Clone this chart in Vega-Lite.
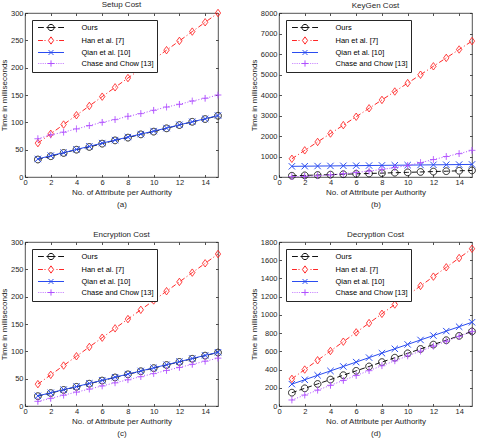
{
  "$schema": "https://vega.github.io/schema/vega-lite/v6.json",
  "padding": 0,
  "background": "white",
  "datasets": {
    "setup": [
      {"series":"Ours","x":1,"y":32},{"series":"Ours","x":2,"y":38},{"series":"Ours","x":3,"y":44},{"series":"Ours","x":4,"y":50},{"series":"Ours","x":5,"y":55},{"series":"Ours","x":6,"y":61},{"series":"Ours","x":7,"y":67},{"series":"Ours","x":8,"y":72},{"series":"Ours","x":9,"y":78},{"series":"Ours","x":10,"y":83},{"series":"Ours","x":11,"y":89},{"series":"Ours","x":12,"y":95},{"series":"Ours","x":13,"y":101},{"series":"Ours","x":14,"y":106},{"series":"Ours","x":15,"y":112},
      {"series":"Han et al. [7]","x":1,"y":62},{"series":"Han et al. [7]","x":2,"y":79},{"series":"Han et al. [7]","x":3,"y":96},{"series":"Han et al. [7]","x":4,"y":113},{"series":"Han et al. [7]","x":5,"y":130},{"series":"Han et al. [7]","x":6,"y":147},{"series":"Han et al. [7]","x":7,"y":164},{"series":"Han et al. [7]","x":8,"y":181},{"series":"Han et al. [7]","x":9,"y":198},{"series":"Han et al. [7]","x":10,"y":215},{"series":"Han et al. [7]","x":11,"y":232},{"series":"Han et al. [7]","x":12,"y":249},{"series":"Han et al. [7]","x":13,"y":266},{"series":"Han et al. [7]","x":14,"y":283},{"series":"Han et al. [7]","x":15,"y":300},
      {"series":"Qian et al. [10]","x":1,"y":33},{"series":"Qian et al. [10]","x":2,"y":39},{"series":"Qian et al. [10]","x":3,"y":44.5},{"series":"Qian et al. [10]","x":4,"y":50.5},{"series":"Qian et al. [10]","x":5,"y":56},{"series":"Qian et al. [10]","x":6,"y":62},{"series":"Qian et al. [10]","x":7,"y":67.5},{"series":"Qian et al. [10]","x":8,"y":73},{"series":"Qian et al. [10]","x":9,"y":78.5},{"series":"Qian et al. [10]","x":10,"y":84},{"series":"Qian et al. [10]","x":11,"y":89.5},{"series":"Qian et al. [10]","x":12,"y":95.5},{"series":"Qian et al. [10]","x":13,"y":101},{"series":"Qian et al. [10]","x":14,"y":106.5},{"series":"Qian et al. [10]","x":15,"y":112.5},
      {"series":"Chase and Chow [13]","x":1,"y":70},{"series":"Chase and Chow [13]","x":2,"y":77},{"series":"Chase and Chow [13]","x":3,"y":82},{"series":"Chase and Chow [13]","x":4,"y":88},{"series":"Chase and Chow [13]","x":5,"y":94},{"series":"Chase and Chow [13]","x":6,"y":100},{"series":"Chase and Chow [13]","x":7,"y":105},{"series":"Chase and Chow [13]","x":8,"y":111},{"series":"Chase and Chow [13]","x":9,"y":116},{"series":"Chase and Chow [13]","x":10,"y":122},{"series":"Chase and Chow [13]","x":11,"y":128},{"series":"Chase and Chow [13]","x":12,"y":133},{"series":"Chase and Chow [13]","x":13,"y":139},{"series":"Chase and Chow [13]","x":14,"y":144},{"series":"Chase and Chow [13]","x":15,"y":150}
    ],
    "keygen": [
      {"series":"Ours","x":1,"y":60},{"series":"Ours","x":2,"y":79},{"series":"Ours","x":3,"y":97},{"series":"Ours","x":4,"y":116},{"series":"Ours","x":5,"y":134},{"series":"Ours","x":6,"y":153},{"series":"Ours","x":7,"y":172},{"series":"Ours","x":8,"y":190},{"series":"Ours","x":9,"y":209},{"series":"Ours","x":10,"y":227},{"series":"Ours","x":11,"y":246},{"series":"Ours","x":12,"y":265},{"series":"Ours","x":13,"y":283},{"series":"Ours","x":14,"y":302},{"series":"Ours","x":15,"y":320},
      {"series":"Han et al. [7]","x":1,"y":890},{"series":"Han et al. [7]","x":2,"y":1300},{"series":"Han et al. [7]","x":3,"y":1710},{"series":"Han et al. [7]","x":4,"y":2120},{"series":"Han et al. [7]","x":5,"y":2530},{"series":"Han et al. [7]","x":6,"y":2940},{"series":"Han et al. [7]","x":7,"y":3350},{"series":"Han et al. [7]","x":8,"y":3760},{"series":"Han et al. [7]","x":9,"y":4170},{"series":"Han et al. [7]","x":10,"y":4580},{"series":"Han et al. [7]","x":11,"y":4990},{"series":"Han et al. [7]","x":12,"y":5400},{"series":"Han et al. [7]","x":13,"y":5810},{"series":"Han et al. [7]","x":14,"y":6220},{"series":"Han et al. [7]","x":15,"y":6630},
      {"series":"Qian et al. [10]","x":1,"y":520},{"series":"Qian et al. [10]","x":2,"y":527},{"series":"Qian et al. [10]","x":3,"y":534},{"series":"Qian et al. [10]","x":4,"y":540},{"series":"Qian et al. [10]","x":5,"y":547},{"series":"Qian et al. [10]","x":6,"y":554},{"series":"Qian et al. [10]","x":7,"y":560},{"series":"Qian et al. [10]","x":8,"y":567},{"series":"Qian et al. [10]","x":9,"y":574},{"series":"Qian et al. [10]","x":10,"y":580},{"series":"Qian et al. [10]","x":11,"y":587},{"series":"Qian et al. [10]","x":12,"y":594},{"series":"Qian et al. [10]","x":13,"y":600},{"series":"Qian et al. [10]","x":14,"y":607},{"series":"Qian et al. [10]","x":15,"y":614},
      {"series":"Chase and Chow [13]","x":1,"y":20},{"series":"Chase and Chow [13]","x":2,"y":30},{"series":"Chase and Chow [13]","x":3,"y":60},{"series":"Chase and Chow [13]","x":4,"y":100},{"series":"Chase and Chow [13]","x":5,"y":160},{"series":"Chase and Chow [13]","x":6,"y":220},{"series":"Chase and Chow [13]","x":7,"y":290},{"series":"Chase and Chow [13]","x":8,"y":370},{"series":"Chase and Chow [13]","x":9,"y":460},{"series":"Chase and Chow [13]","x":10,"y":560},{"series":"Chase and Chow [13]","x":11,"y":700},{"series":"Chase and Chow [13]","x":12,"y":850},{"series":"Chase and Chow [13]","x":13,"y":1000},{"series":"Chase and Chow [13]","x":14,"y":1140},{"series":"Chase and Chow [13]","x":15,"y":1300}
    ],
    "enc": [
      {"series":"Ours","x":1,"y":18},{"series":"Ours","x":2,"y":23.7},{"series":"Ours","x":3,"y":29.4},{"series":"Ours","x":4,"y":35.1},{"series":"Ours","x":5,"y":40.8},{"series":"Ours","x":6,"y":46.5},{"series":"Ours","x":7,"y":52.2},{"series":"Ours","x":8,"y":57.9},{"series":"Ours","x":9,"y":63.6},{"series":"Ours","x":10,"y":69.3},{"series":"Ours","x":11,"y":75},{"series":"Ours","x":12,"y":80.7},{"series":"Ours","x":13,"y":86.4},{"series":"Ours","x":14,"y":92.1},{"series":"Ours","x":15,"y":97.8},
      {"series":"Han et al. [7]","x":1,"y":40},{"series":"Han et al. [7]","x":2,"y":57},{"series":"Han et al. [7]","x":3,"y":74},{"series":"Han et al. [7]","x":4,"y":91},{"series":"Han et al. [7]","x":5,"y":108},{"series":"Han et al. [7]","x":6,"y":125},{"series":"Han et al. [7]","x":7,"y":142},{"series":"Han et al. [7]","x":8,"y":159},{"series":"Han et al. [7]","x":9,"y":176},{"series":"Han et al. [7]","x":10,"y":193},{"series":"Han et al. [7]","x":11,"y":210},{"series":"Han et al. [7]","x":12,"y":227},{"series":"Han et al. [7]","x":13,"y":244},{"series":"Han et al. [7]","x":14,"y":261},{"series":"Han et al. [7]","x":15,"y":278},
      {"series":"Qian et al. [10]","x":1,"y":18.5},{"series":"Qian et al. [10]","x":2,"y":24.2},{"series":"Qian et al. [10]","x":3,"y":29.9},{"series":"Qian et al. [10]","x":4,"y":35.6},{"series":"Qian et al. [10]","x":5,"y":41.3},{"series":"Qian et al. [10]","x":6,"y":47},{"series":"Qian et al. [10]","x":7,"y":52.7},{"series":"Qian et al. [10]","x":8,"y":58.4},{"series":"Qian et al. [10]","x":9,"y":64.1},{"series":"Qian et al. [10]","x":10,"y":69.8},{"series":"Qian et al. [10]","x":11,"y":75.5},{"series":"Qian et al. [10]","x":12,"y":81.2},{"series":"Qian et al. [10]","x":13,"y":86.9},{"series":"Qian et al. [10]","x":14,"y":92.6},{"series":"Qian et al. [10]","x":15,"y":98.3},
      {"series":"Chase and Chow [13]","x":1,"y":8.5},{"series":"Chase and Chow [13]","x":2,"y":14},{"series":"Chase and Chow [13]","x":3,"y":19.8},{"series":"Chase and Chow [13]","x":4,"y":25.4},{"series":"Chase and Chow [13]","x":5,"y":31},{"series":"Chase and Chow [13]","x":6,"y":36.7},{"series":"Chase and Chow [13]","x":7,"y":42.4},{"series":"Chase and Chow [13]","x":8,"y":48},{"series":"Chase and Chow [13]","x":9,"y":53.7},{"series":"Chase and Chow [13]","x":10,"y":59.3},{"series":"Chase and Chow [13]","x":11,"y":65},{"series":"Chase and Chow [13]","x":12,"y":70.6},{"series":"Chase and Chow [13]","x":13,"y":76.2},{"series":"Chase and Chow [13]","x":14,"y":81.9},{"series":"Chase and Chow [13]","x":15,"y":87.5}
    ],
    "dec": [
      {"series":"Ours","x":1,"y":146},{"series":"Ours","x":2,"y":194},{"series":"Ours","x":3,"y":242},{"series":"Ours","x":4,"y":290},{"series":"Ours","x":5,"y":338},{"series":"Ours","x":6,"y":386},{"series":"Ours","x":7,"y":434},{"series":"Ours","x":8,"y":482},{"series":"Ours","x":9,"y":530},{"series":"Ours","x":10,"y":578},{"series":"Ours","x":11,"y":626},{"series":"Ours","x":12,"y":674},{"series":"Ours","x":13,"y":722},{"series":"Ours","x":14,"y":770},{"series":"Ours","x":15,"y":818},
      {"series":"Han et al. [7]","x":1,"y":298},{"series":"Han et al. [7]","x":2,"y":400},{"series":"Han et al. [7]","x":3,"y":502},{"series":"Han et al. [7]","x":4,"y":604},{"series":"Han et al. [7]","x":5,"y":706},{"series":"Han et al. [7]","x":6,"y":808},{"series":"Han et al. [7]","x":7,"y":910},{"series":"Han et al. [7]","x":8,"y":1012},{"series":"Han et al. [7]","x":9,"y":1114},{"series":"Han et al. [7]","x":10,"y":1216},{"series":"Han et al. [7]","x":11,"y":1318},{"series":"Han et al. [7]","x":12,"y":1420},{"series":"Han et al. [7]","x":13,"y":1522},{"series":"Han et al. [7]","x":14,"y":1624},{"series":"Han et al. [7]","x":15,"y":1726},
      {"series":"Qian et al. [10]","x":1,"y":240},{"series":"Qian et al. [10]","x":2,"y":288},{"series":"Qian et al. [10]","x":3,"y":337},{"series":"Qian et al. [10]","x":4,"y":385},{"series":"Qian et al. [10]","x":5,"y":434},{"series":"Qian et al. [10]","x":6,"y":482},{"series":"Qian et al. [10]","x":7,"y":531},{"series":"Qian et al. [10]","x":8,"y":580},{"series":"Qian et al. [10]","x":9,"y":628},{"series":"Qian et al. [10]","x":10,"y":676},{"series":"Qian et al. [10]","x":11,"y":725},{"series":"Qian et al. [10]","x":12,"y":773},{"series":"Qian et al. [10]","x":13,"y":822},{"series":"Qian et al. [10]","x":14,"y":870},{"series":"Qian et al. [10]","x":15,"y":919},
      {"series":"Chase and Chow [13]","x":1,"y":66},{"series":"Chase and Chow [13]","x":2,"y":120},{"series":"Chase and Chow [13]","x":3,"y":174},{"series":"Chase and Chow [13]","x":4,"y":227},{"series":"Chase and Chow [13]","x":5,"y":281},{"series":"Chase and Chow [13]","x":6,"y":335},{"series":"Chase and Chow [13]","x":7,"y":388},{"series":"Chase and Chow [13]","x":8,"y":442},{"series":"Chase and Chow [13]","x":9,"y":496},{"series":"Chase and Chow [13]","x":10,"y":550},{"series":"Chase and Chow [13]","x":11,"y":603},{"series":"Chase and Chow [13]","x":12,"y":657},{"series":"Chase and Chow [13]","x":13,"y":711},{"series":"Chase and Chow [13]","x":14,"y":764},{"series":"Chase and Chow [13]","x":15,"y":818}
    ]
  },
  "columns": 2,
  "spacing": {"row": 65, "column": 61},
  "bounds": "flush",
  "resolve": {"scale": {"color": "independent", "shape": "independent"}, "legend": {"color": "independent", "shape": "independent"}},
  "concat": [
    {
      "title": "Setup Cost",
      "width": 193, "height": 164,
      "data": {"name": "setup"},
      "layer": [
        {"transform": [{"filter": "datum.series === 'Ours'"}],
         "mark": {"type": "line", "color": "#111111", "strokeWidth": 1, "strokeDash": [5,3], "point": {"shape": "circle", "filled": false, "size": 45, "strokeWidth": 1, "opacity": 1, "strokeDash": [1,0], "color": "#111111"}},
         "encoding": {
           "x": {"field": "x", "type": "quantitative", "scale": {"domain": [0, 15], "nice": false}, "axis": {"orient": "bottom", "values": [0,2,4,6,8,10,12,14], "format": "d", "title": ["No. of Attribute per Authority", "(a)"]}},
           "y": {"field": "y", "type": "quantitative", "scale": {"domain": [0, 300], "nice": false}, "axis": {"orient": "left", "values": [0,50,100,150,200,250,300], "format": "d", "title": "Time in milliseconds"}}
         }},
        {"transform": [{"filter": "datum.series === 'Han et al. [7]'"}],
         "mark": {"type": "line", "color": "#ff2626", "strokeWidth": 1, "strokeDash": [5,2.5,1,2.5], "point": {"shape": "M0,-1.1L0.8,0L0,1.1L-0.8,0Z", "filled": false, "size": 45, "strokeWidth": 1, "opacity": 1, "strokeDash": [1,0], "color": "#ff2626"}},
         "encoding": {
           "x": {"field": "x", "type": "quantitative", "scale": {"domain": [0, 15], "nice": false}, "axis": {"orient": "top", "values": [0,2,4,6,8,10,12,14], "labels": false, "title": null}},
           "y": {"field": "y", "type": "quantitative", "scale": {"domain": [0, 300], "nice": false}, "axis": {"orient": "right", "values": [0,50,100,150,200,250,300], "labels": false, "title": null}}
         }},
        {"transform": [{"filter": "datum.series === 'Qian et al. [10]'"}],
         "mark": {"type": "line", "color": "#2a4cf0", "strokeWidth": 1, "point": {"shape": "M-0.95,-0.95L0.95,0.95M-0.95,0.95L0.95,-0.95", "filled": false, "size": 45, "strokeWidth": 1, "opacity": 1, "color": "#2a4cf0"}},
         "encoding": {"x": {"field": "x", "type": "quantitative", "axis": null}, "y": {"field": "y", "type": "quantitative", "axis": null}}},
        {"transform": [{"filter": "datum.series === 'Chase and Chow [13]'"}],
         "mark": {"type": "line", "color": "#b050ff", "strokeWidth": 1, "strokeDash": [1,1.8], "point": {"shape": "M-1,0H1M0,-1V1", "filled": false, "size": 45, "strokeWidth": 1, "opacity": 1, "strokeDash": [1,0], "color": "#b050ff"}},
         "encoding": {"x": {"field": "x", "type": "quantitative", "axis": null}, "y": {"field": "y", "type": "quantitative", "axis": null}}},
        {"transform": [{"filter": "datum.x < 0"}],
         "mark": {"type": "point", "filled": false, "strokeWidth": 1, "opacity": 1},
         "encoding": {
           "color": {"field": "series", "type": "nominal", "title": null, "scale": {"domain": ["Ours","Han et al. [7]","Qian et al. [10]","Chase and Chow [13]"], "range": ["#111111","#ff2626","#2a4cf0","#b050ff"]}},
           "shape": {"field": "series", "type": "nominal", "title": null, "scale": {"domain": ["Ours","Han et al. [7]","Qian et al. [10]","Chase and Chow [13]"], "range": ["M-3.25,0H-1.79M-1.14,0H1.14M1.79,0H3.25M0.78,0A0.78,0.78,0,1,1,-0.78,0A0.78,0.78,0,1,1,0.78,0","M-3.25,0H-2.02M-1.63,0H-1.37M1.37,0H1.63M2.02,0H3.25M0,-0.91L0.65,0L0,0.91L-0.65,0Z","M-3.25,0H3.25M-0.62,-0.62L0.62,0.62M-0.62,0.62L0.62,-0.62","M-3.25,0H-3.09M-2.8,0H-2.64M-2.34,0H-2.18M-1.89,0H-1.73M-1.43,0H-1.27M-0.98,0H-0.82M0.82,0H0.98M1.27,0H1.43M1.73,0H1.89M2.18,0H2.34M2.64,0H2.8M3.09,0H3.25M-0.78,0H0.78M0,-0.78V0.78"]}}
         }}
      ],
      "resolve": {"axis": {"x": "independent", "y": "independent"}}
    },
    {
      "title": "KeyGen Cost",
      "width": 193, "height": 164,
      "data": {"name": "keygen"},
      "layer": [
        {"transform": [{"filter": "datum.series === 'Ours'"}],
         "mark": {"type": "line", "color": "#111111", "strokeWidth": 1, "strokeDash": [5,3], "point": {"shape": "circle", "filled": false, "size": 45, "strokeWidth": 1, "opacity": 1, "strokeDash": [1,0], "color": "#111111"}},
         "encoding": {
           "x": {"field": "x", "type": "quantitative", "scale": {"domain": [0, 15], "nice": false}, "axis": {"orient": "bottom", "values": [0,2,4,6,8,10,12,14], "format": "d", "title": ["No. of Attribute per Authority", "(b)"]}},
           "y": {"field": "y", "type": "quantitative", "scale": {"domain": [0, 8000], "nice": false}, "axis": {"orient": "left", "values": [0,1000,2000,3000,4000,5000,6000,7000,8000], "format": "d", "title": "Time in milliseconds"}}
         }},
        {"transform": [{"filter": "datum.series === 'Han et al. [7]'"}],
         "mark": {"type": "line", "color": "#ff2626", "strokeWidth": 1, "strokeDash": [5,2.5,1,2.5], "point": {"shape": "M0,-1.1L0.8,0L0,1.1L-0.8,0Z", "filled": false, "size": 45, "strokeWidth": 1, "opacity": 1, "strokeDash": [1,0], "color": "#ff2626"}},
         "encoding": {
           "x": {"field": "x", "type": "quantitative", "scale": {"domain": [0, 15], "nice": false}, "axis": {"orient": "top", "values": [0,2,4,6,8,10,12,14], "labels": false, "title": null}},
           "y": {"field": "y", "type": "quantitative", "scale": {"domain": [0, 8000], "nice": false}, "axis": {"orient": "right", "values": [0,1000,2000,3000,4000,5000,6000,7000,8000], "labels": false, "title": null}}
         }},
        {"transform": [{"filter": "datum.series === 'Qian et al. [10]'"}],
         "mark": {"type": "line", "color": "#2a4cf0", "strokeWidth": 1, "point": {"shape": "M-0.95,-0.95L0.95,0.95M-0.95,0.95L0.95,-0.95", "filled": false, "size": 45, "strokeWidth": 1, "opacity": 1, "color": "#2a4cf0"}},
         "encoding": {"x": {"field": "x", "type": "quantitative", "axis": null}, "y": {"field": "y", "type": "quantitative", "axis": null}}},
        {"transform": [{"filter": "datum.series === 'Chase and Chow [13]'"}],
         "mark": {"type": "line", "color": "#b050ff", "strokeWidth": 1, "strokeDash": [1,1.8], "point": {"shape": "M-1,0H1M0,-1V1", "filled": false, "size": 45, "strokeWidth": 1, "opacity": 1, "strokeDash": [1,0], "color": "#b050ff"}},
         "encoding": {"x": {"field": "x", "type": "quantitative", "axis": null}, "y": {"field": "y", "type": "quantitative", "axis": null}}},
        {"transform": [{"filter": "datum.x < 0"}],
         "mark": {"type": "point", "filled": false, "strokeWidth": 1, "opacity": 1},
         "encoding": {
           "color": {"field": "series", "type": "nominal", "title": null, "scale": {"domain": ["Ours","Han et al. [7]","Qian et al. [10]","Chase and Chow [13]"], "range": ["#111111","#ff2626","#2a4cf0","#b050ff"]}},
           "shape": {"field": "series", "type": "nominal", "title": null, "scale": {"domain": ["Ours","Han et al. [7]","Qian et al. [10]","Chase and Chow [13]"], "range": ["M-3.25,0H-1.79M-1.14,0H1.14M1.79,0H3.25M0.78,0A0.78,0.78,0,1,1,-0.78,0A0.78,0.78,0,1,1,0.78,0","M-3.25,0H-2.02M-1.63,0H-1.37M1.37,0H1.63M2.02,0H3.25M0,-0.91L0.65,0L0,0.91L-0.65,0Z","M-3.25,0H3.25M-0.62,-0.62L0.62,0.62M-0.62,0.62L0.62,-0.62","M-3.25,0H-3.09M-2.8,0H-2.64M-2.34,0H-2.18M-1.89,0H-1.73M-1.43,0H-1.27M-0.98,0H-0.82M0.82,0H0.98M1.27,0H1.43M1.73,0H1.89M2.18,0H2.34M2.64,0H2.8M3.09,0H3.25M-0.78,0H0.78M0,-0.78V0.78"]}}
         }}
      ],
      "resolve": {"axis": {"x": "independent", "y": "independent"}}
    },
    {
      "title": "Encryption Cost",
      "width": 193, "height": 164,
      "data": {"name": "enc"},
      "layer": [
        {"transform": [{"filter": "datum.series === 'Ours'"}],
         "mark": {"type": "line", "color": "#111111", "strokeWidth": 1, "strokeDash": [5,3], "point": {"shape": "circle", "filled": false, "size": 45, "strokeWidth": 1, "opacity": 1, "strokeDash": [1,0], "color": "#111111"}},
         "encoding": {
           "x": {"field": "x", "type": "quantitative", "scale": {"domain": [0, 15], "nice": false}, "axis": {"orient": "bottom", "values": [0,2,4,6,8,10,12,14], "format": "d", "title": ["No. of Attribute per Authority", "(c)"]}},
           "y": {"field": "y", "type": "quantitative", "scale": {"domain": [0, 300], "nice": false}, "axis": {"orient": "left", "values": [0,50,100,150,200,250,300], "format": "d", "title": "Time in milliseconds"}}
         }},
        {"transform": [{"filter": "datum.series === 'Han et al. [7]'"}],
         "mark": {"type": "line", "color": "#ff2626", "strokeWidth": 1, "strokeDash": [5,2.5,1,2.5], "point": {"shape": "M0,-1.1L0.8,0L0,1.1L-0.8,0Z", "filled": false, "size": 45, "strokeWidth": 1, "opacity": 1, "strokeDash": [1,0], "color": "#ff2626"}},
         "encoding": {
           "x": {"field": "x", "type": "quantitative", "scale": {"domain": [0, 15], "nice": false}, "axis": {"orient": "top", "values": [0,2,4,6,8,10,12,14], "labels": false, "title": null}},
           "y": {"field": "y", "type": "quantitative", "scale": {"domain": [0, 300], "nice": false}, "axis": {"orient": "right", "values": [0,50,100,150,200,250,300], "labels": false, "title": null}}
         }},
        {"transform": [{"filter": "datum.series === 'Qian et al. [10]'"}],
         "mark": {"type": "line", "color": "#2a4cf0", "strokeWidth": 1, "point": {"shape": "M-0.95,-0.95L0.95,0.95M-0.95,0.95L0.95,-0.95", "filled": false, "size": 45, "strokeWidth": 1, "opacity": 1, "color": "#2a4cf0"}},
         "encoding": {"x": {"field": "x", "type": "quantitative", "axis": null}, "y": {"field": "y", "type": "quantitative", "axis": null}}},
        {"transform": [{"filter": "datum.series === 'Chase and Chow [13]'"}],
         "mark": {"type": "line", "color": "#b050ff", "strokeWidth": 1, "strokeDash": [1,1.8], "point": {"shape": "M-1,0H1M0,-1V1", "filled": false, "size": 45, "strokeWidth": 1, "opacity": 1, "strokeDash": [1,0], "color": "#b050ff"}},
         "encoding": {"x": {"field": "x", "type": "quantitative", "axis": null}, "y": {"field": "y", "type": "quantitative", "axis": null}}},
        {"transform": [{"filter": "datum.x < 0"}],
         "mark": {"type": "point", "filled": false, "strokeWidth": 1, "opacity": 1},
         "encoding": {
           "color": {"field": "series", "type": "nominal", "title": null, "scale": {"domain": ["Ours","Han et al. [7]","Qian et al. [10]","Chase and Chow [13]"], "range": ["#111111","#ff2626","#2a4cf0","#b050ff"]}},
           "shape": {"field": "series", "type": "nominal", "title": null, "scale": {"domain": ["Ours","Han et al. [7]","Qian et al. [10]","Chase and Chow [13]"], "range": ["M-3.25,0H-1.79M-1.14,0H1.14M1.79,0H3.25M0.78,0A0.78,0.78,0,1,1,-0.78,0A0.78,0.78,0,1,1,0.78,0","M-3.25,0H-2.02M-1.63,0H-1.37M1.37,0H1.63M2.02,0H3.25M0,-0.91L0.65,0L0,0.91L-0.65,0Z","M-3.25,0H3.25M-0.62,-0.62L0.62,0.62M-0.62,0.62L0.62,-0.62","M-3.25,0H-3.09M-2.8,0H-2.64M-2.34,0H-2.18M-1.89,0H-1.73M-1.43,0H-1.27M-0.98,0H-0.82M0.82,0H0.98M1.27,0H1.43M1.73,0H1.89M2.18,0H2.34M2.64,0H2.8M3.09,0H3.25M-0.78,0H0.78M0,-0.78V0.78"]}}
         }}
      ],
      "resolve": {"axis": {"x": "independent", "y": "independent"}}
    },
    {
      "title": "Decryption Cost",
      "width": 193, "height": 164,
      "data": {"name": "dec"},
      "layer": [
        {"transform": [{"filter": "datum.series === 'Ours'"}],
         "mark": {"type": "line", "color": "#111111", "strokeWidth": 1, "strokeDash": [5,3], "point": {"shape": "circle", "filled": false, "size": 45, "strokeWidth": 1, "opacity": 1, "strokeDash": [1,0], "color": "#111111"}},
         "encoding": {
           "x": {"field": "x", "type": "quantitative", "scale": {"domain": [0, 15], "nice": false}, "axis": {"orient": "bottom", "values": [0,2,4,6,8,10,12,14], "format": "d", "title": ["No. of Attribute per Authority", "(d)"]}},
           "y": {"field": "y", "type": "quantitative", "scale": {"domain": [0, 1800], "nice": false}, "axis": {"orient": "left", "values": [0,200,400,600,800,1000,1200,1400,1600,1800], "format": "d", "title": "Time in milliseconds"}}
         }},
        {"transform": [{"filter": "datum.series === 'Han et al. [7]'"}],
         "mark": {"type": "line", "color": "#ff2626", "strokeWidth": 1, "strokeDash": [5,2.5,1,2.5], "point": {"shape": "M0,-1.1L0.8,0L0,1.1L-0.8,0Z", "filled": false, "size": 45, "strokeWidth": 1, "opacity": 1, "strokeDash": [1,0], "color": "#ff2626"}},
         "encoding": {
           "x": {"field": "x", "type": "quantitative", "scale": {"domain": [0, 15], "nice": false}, "axis": {"orient": "top", "values": [0,2,4,6,8,10,12,14], "labels": false, "title": null}},
           "y": {"field": "y", "type": "quantitative", "scale": {"domain": [0, 1800], "nice": false}, "axis": {"orient": "right", "values": [0,200,400,600,800,1000,1200,1400,1600,1800], "labels": false, "title": null}}
         }},
        {"transform": [{"filter": "datum.series === 'Qian et al. [10]'"}],
         "mark": {"type": "line", "color": "#2a4cf0", "strokeWidth": 1, "point": {"shape": "M-0.95,-0.95L0.95,0.95M-0.95,0.95L0.95,-0.95", "filled": false, "size": 45, "strokeWidth": 1, "opacity": 1, "color": "#2a4cf0"}},
         "encoding": {"x": {"field": "x", "type": "quantitative", "axis": null}, "y": {"field": "y", "type": "quantitative", "axis": null}}},
        {"transform": [{"filter": "datum.series === 'Chase and Chow [13]'"}],
         "mark": {"type": "line", "color": "#b050ff", "strokeWidth": 1, "strokeDash": [1,1.8], "point": {"shape": "M-1,0H1M0,-1V1", "filled": false, "size": 45, "strokeWidth": 1, "opacity": 1, "strokeDash": [1,0], "color": "#b050ff"}},
         "encoding": {"x": {"field": "x", "type": "quantitative", "axis": null}, "y": {"field": "y", "type": "quantitative", "axis": null}}},
        {"transform": [{"filter": "datum.x < 0"}],
         "mark": {"type": "point", "filled": false, "strokeWidth": 1, "opacity": 1},
         "encoding": {
           "color": {"field": "series", "type": "nominal", "title": null, "scale": {"domain": ["Ours","Han et al. [7]","Qian et al. [10]","Chase and Chow [13]"], "range": ["#111111","#ff2626","#2a4cf0","#b050ff"]}},
           "shape": {"field": "series", "type": "nominal", "title": null, "scale": {"domain": ["Ours","Han et al. [7]","Qian et al. [10]","Chase and Chow [13]"], "range": ["M-3.25,0H-1.79M-1.14,0H1.14M1.79,0H3.25M0.78,0A0.78,0.78,0,1,1,-0.78,0A0.78,0.78,0,1,1,0.78,0","M-3.25,0H-2.02M-1.63,0H-1.37M1.37,0H1.63M2.02,0H3.25M0,-0.91L0.65,0L0,0.91L-0.65,0Z","M-3.25,0H3.25M-0.62,-0.62L0.62,0.62M-0.62,0.62L0.62,-0.62","M-3.25,0H-3.09M-2.8,0H-2.64M-2.34,0H-2.18M-1.89,0H-1.73M-1.43,0H-1.27M-0.98,0H-0.82M0.82,0H0.98M1.27,0H1.43M1.73,0H1.89M2.18,0H2.34M2.64,0H2.8M3.09,0H3.25M-0.78,0H0.78M0,-0.78V0.78"]}}
         }}
      ],
      "resolve": {"axis": {"x": "independent", "y": "independent"}}
    }
  ],
  "config": {
    "font": "Liberation Sans",
    "view": {"stroke": "#262626", "strokeWidth": 0.8},
    "axis": {"grid": false, "domain": false, "tickSize": -2.5, "tickColor": "#262626", "tickWidth": 0.8, "labelFont": "Liberation Sans", "labelFontSize": 7.5, "labelColor": "#262626", "labelFlush": false, "titleFont": "Liberation Sans", "titleFontSize": 8, "titleFontWeight": "normal", "titleColor": "#262626"},
    "axisX": {"labelPadding": 3.5, "titlePadding": 2.5, "titleLineHeight": 12.8},
    "axisY": {"labelPadding": 4.5, "titlePadding": 2},
    "legend": {"orient": "top-left", "offset": 7, "padding": 3, "strokeColor": "#262626", "fillColor": "white", "rowPadding": 1, "labelFont": "Liberation Sans", "labelFontSize": 7.5, "labelColor": "#000000", "labelOffset": 26, "symbolSize": 64, "symbolStrokeWidth": 1, "symbolOffset": 11.5},
    "title": {"font": "Liberation Sans", "fontSize": 8, "fontWeight": "normal", "offset": -1.3, "color": "#262626"}
  }
}
